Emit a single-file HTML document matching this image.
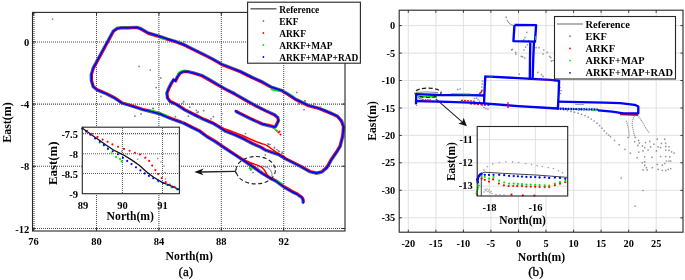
<!DOCTYPE html>
<html><head><meta charset="utf-8"><style>
html,body{margin:0;padding:0;background:#fff;width:685px;height:280px;overflow:hidden}
svg{display:block;filter:blur(0.3px)}
text{font-family:"Liberation Serif",serif}
</style></head><body>
<svg width="685" height="280" viewBox="0 0 685 280">
<rect width="685" height="280" fill="#fff"/>
<line x1="96.5" y1="13" x2="96.5" y2="231.0" stroke="#4a4a4a" stroke-width="1.05" stroke-dasharray="1 1"/>
<line x1="158.9" y1="13" x2="158.9" y2="231.0" stroke="#4a4a4a" stroke-width="1.05" stroke-dasharray="1 1"/>
<line x1="221.3" y1="13" x2="221.3" y2="231.0" stroke="#4a4a4a" stroke-width="1.05" stroke-dasharray="1 1"/>
<line x1="283.7" y1="13" x2="283.7" y2="231.0" stroke="#4a4a4a" stroke-width="1.05" stroke-dasharray="1 1"/>
<line x1="33" y1="41.9" x2="345.0" y2="41.9" stroke="#4a4a4a" stroke-width="1.05" stroke-dasharray="1 1"/>
<line x1="33" y1="104.1" x2="345.0" y2="104.1" stroke="#4a4a4a" stroke-width="1.05" stroke-dasharray="1 1"/>
<line x1="33" y1="166.3" x2="345.0" y2="166.3" stroke="#4a4a4a" stroke-width="1.05" stroke-dasharray="1 1"/>
<line x1="33" y1="228.5" x2="345.0" y2="228.5" stroke="#4a4a4a" stroke-width="1.05" stroke-dasharray="1 1"/>
<line x1="34" y1="13" x2="34" y2="231.0" stroke="#555" stroke-width="1.2" stroke-dasharray="1 1"/>
<polyline points="302.0,203.1 302.0,200.2 301.1,198.3 296.9,195.3 292.0,192.9 283.1,187.8 275.7,182.2 269.5,179.1 262.1,174.6 250.5,166.4 236.5,157.1 222.6,147.9 214.6,142.4 206.7,137.8 198.8,131.9 191.0,128.1 183.3,124.1 170.1,119.5 159.6,114.9 150.7,112.6 142.8,110.7 132.3,107.3 121.5,104.0 113.6,98.6 105.8,94.8 96.6,90.9 92.2,87.2 90.3,80.7 90.1,74.8 92.1,67.9 112.4,30.6 116.6,27.4 120.9,26.7 128.2,26.7 137.0,26.3 141.0,27.6 149.0,32.2 159.1,35.1 167.9,38.1 175.4,40.4 184.2,43.6 194.5,48.7 204.7,53.8 213.5,58.2 222.2,63.3 233.8,67.7 241.0,70.6 251.5,75.9 262.0,80.6 272.4,86.4 282.9,89.9 288.2,93.0 297.3,98.9 309.0,104.5 319.5,107.4 330.0,111.6 338.1,115.4 342.6,120.5 344.7,126.9 343.9,136.0 341.2,146.7 337.9,152.1 332.4,160.1 327.9,168.2 322.5,172.8 316.5,174.3 309.5,172.7 298.9,166.8 285.8,160.2 278.3,155.7 271.4,153.5 265.2,151.3 260.2,148.3 251.3,144.3 242.4,139.4 233.5,135.4 225.0,132.2 219.8,128.7 212.1,124.1 202.9,120.2 193.7,115.6 184.5,111.0 176.0,105.5 169.4,102.4 166.5,98.4 165.7,93.2 167.5,88.3 170.2,82.9 173.3,78.4 174.7,80.3 176.3,76.5 179.3,72.2 183.8,70.3 188.2,70.5 194.5,72.0 202.4,74.5 210.5,79.1 218.4,83.7 226.2,88.3 235.4,92.9 244.6,98.2 256.8,105.0 266.7,110.0 275.0,113.8 278.7,116.9 279.6,120.7 278.0,124.2 276.4,127.2 274.0,128.4 272.2,127.6 262.1,125.2 249.5,119.5 239.5,114.5 235.6,112.4 234.7,111.2" fill="none" stroke="#4a4a4a" stroke-width="1.2" stroke-linejoin="round" opacity="0.85"/>
<polyline points="304.2,203.1 304.2,199.8 302.7,196.7 298.1,193.4 293.1,190.9 284.4,185.9 276.9,180.3 270.6,177.1 263.3,172.7 251.7,164.6 237.7,155.2 223.8,146.0 215.8,140.5 207.9,135.9 200.0,130.0 192.0,126.1 184.1,122.0 170.9,117.4 160.4,112.8 151.3,110.4 143.4,108.5 132.9,105.2 122.5,102.0 114.8,96.7 106.8,92.8 97.7,88.9 94.1,86.0 92.5,80.3 92.3,75.2 94.1,68.9 114.3,31.8 117.5,29.5 121.1,28.9 128.2,28.9 136.8,28.5 140.0,29.6 148.2,34.3 158.5,37.3 167.2,40.2 174.6,42.5 183.3,45.7 193.5,50.7 203.7,55.8 212.5,60.2 221.2,65.3 233.0,69.8 240.0,72.6 250.5,77.9 261.0,82.6 271.5,88.5 282.1,92.0 287.0,94.9 296.2,100.9 308.2,106.6 318.7,109.5 329.1,113.7 336.8,117.2 340.6,121.6 342.5,127.1 341.7,135.6 339.1,145.9 336.0,150.9 330.5,158.9 326.1,166.8 321.5,170.8 316.5,172.1 310.4,170.6 299.9,164.8 286.8,158.2 279.3,153.7 272.2,151.4 266.2,149.3 261.2,146.3 252.3,142.3 243.4,137.4 234.3,133.3 226.0,130.2 221.0,126.8 213.1,122.1 203.9,118.2 194.7,113.6 185.6,109.0 177.1,103.5 170.7,100.6 168.6,97.6 167.9,93.4 169.6,89.2 172.2,84.0 174.3,80.4 176.0,82.1 178.3,77.6 180.7,73.9 184.2,72.5 187.8,72.7 193.9,74.2 201.5,76.6 209.3,81.1 217.2,85.7 225.2,90.3 234.4,94.9 243.5,100.2 255.7,107.0 265.8,112.0 273.9,115.8 276.9,118.2 277.4,120.5 276.0,123.2 274.7,125.8 274.0,126.1 272.8,125.4 262.9,123.1 250.5,117.5 240.5,112.5 236.8,110.5 236.6,110.0" fill="none" stroke="#ff0000" stroke-width="1.25" stroke-linejoin="round"/>
<path d="M262,166 Q268,166.5 270.5,170 Q272.5,173 272,176.5" fill="none" stroke="#8a8a8a" stroke-width="1"/>
<path d="M238.0,157.0 C239.2,157.6 242.7,159.2 245.0,160.3 C247.3,161.4 249.8,162.4 252.0,163.3 C254.2,164.2 256.8,164.9 258.5,165.6 C260.2,166.3 260.9,166.6 262.0,167.5 C263.1,168.4 264.1,169.7 265.0,171.0 C265.9,172.3 266.6,174.3 267.5,175.5 C268.4,176.7 270.0,177.9 270.5,178.4" fill="none" stroke="#ff0000" stroke-width="1.5"/>
<path d="M222.0,127.4 C222.5,127.7 223.0,128.2 225.0,129.0 C227.0,129.8 230.9,131.0 233.9,132.1 C236.9,133.2 239.9,134.4 242.9,135.7 C245.9,137.0 248.8,138.4 251.8,139.7 C254.8,141.0 258.5,142.5 260.7,143.3 C262.9,144.1 263.7,144.1 265.0,144.6 C266.3,145.1 267.2,145.7 268.3,146.4 C269.4,147.1 270.5,148.1 271.8,149.0 C273.1,149.9 274.8,151.2 276.2,152.1 C277.6,153.0 279.0,153.9 280.5,154.7 C282.0,155.5 284.2,156.6 285.0,157.0" fill="none" stroke="#ff0000" stroke-width="1.5"/>
<path d="M150.0,110.5 C151.7,111.0 157.0,112.2 160.0,113.2 C163.0,114.2 166.7,116.0 168.0,116.5" fill="none" stroke="#00e600" stroke-width="2"/>
<path d="M275.0,180.2 C275.7,180.5 277.8,181.5 279.0,182.2 C280.2,182.9 281.9,184.0 282.5,184.4" fill="none" stroke="#00e600" stroke-width="2"/>
<path d="M271.0,89.0 C271.8,89.2 274.4,89.9 276.0,90.2 C277.6,90.5 279.8,90.9 280.5,91.0" fill="none" stroke="#00e600" stroke-width="2"/>
<path d="M286.0,93.2 C286.7,93.5 288.8,94.5 290.0,95.0 C291.2,95.5 292.5,96.2 293.0,96.5" fill="none" stroke="#00e600" stroke-width="2"/>
<path d="M177.5,74.2 C178.1,73.7 179.6,71.9 181.0,71.3 C182.4,70.7 185.2,70.7 186.0,70.6" fill="none" stroke="#00e600" stroke-width="2"/>
<path d="M166.6,92.0 L167.3,95.0" fill="none" stroke="#00e600" stroke-width="2"/>
<path d="M249.0,167.6 L252.0,169.8" fill="none" stroke="#00e600" stroke-width="2"/>
<path d="M160.0,37.6 C160.6,37.8 162.4,38.4 163.5,38.8 C164.6,39.2 166.0,39.6 166.5,39.8" fill="none" stroke="#00e600" stroke-width="2"/>
<polyline points="303.1,203.1 303.1,200.0 301.9,197.5 297.5,194.4 292.5,191.9 283.8,186.9 276.2,181.2 270.0,178.1 262.7,173.7 251.1,165.5 237.1,156.2 223.2,147.0 215.2,141.5 207.3,136.9 199.4,131.0 191.5,127.1 183.7,123.1 170.5,118.5 160.0,113.9 151.0,111.5 143.1,109.6 132.6,106.3 122.0,103.0 114.2,97.7 106.3,93.8 97.1,89.9 93.1,86.6 91.4,80.5 91.2,75.0 93.1,68.4 113.3,31.2 117.0,28.4 121.0,27.8 128.2,27.8 136.9,27.4 140.5,28.6 148.6,33.2 158.8,36.2 167.6,39.1 175.0,41.4 183.8,44.6 194.0,49.7 204.2,54.8 213.0,59.2 221.7,64.3 233.4,68.7 240.5,71.6 251.0,76.9 261.5,81.6 272.0,87.4 282.5,90.9 287.6,93.9 296.8,99.9 308.6,105.5 319.1,108.4 329.6,112.6 337.5,116.3 341.6,121.0 343.6,127.0 342.8,135.8 340.2,146.3 337.0,151.5 331.5,159.5 327.0,167.5 322.0,171.8 316.5,173.2 309.9,171.7 299.4,165.8 286.3,159.2 278.8,154.7 271.8,152.5 265.7,150.3 260.7,147.3 251.8,143.3 242.9,138.4 233.9,134.4 225.5,131.2 220.4,127.8 212.6,123.1 203.4,119.2 194.2,114.6 185.0,110.0 176.5,104.5 170.0,101.5 167.5,98.0 166.8,93.3 168.5,88.7 171.2,83.4 173.8,79.4 175.3,81.2 177.3,77.0 180.0,73.0 184.0,71.4 188.0,71.6 194.2,73.1 202.0,75.5 209.9,80.1 217.8,84.7 225.7,89.3 234.9,93.9 244.1,99.2 256.2,106.0 266.2,111.0 274.5,114.8 277.8,117.5 278.5,120.6 277.0,123.8 275.6,126.5 274.0,127.3 272.5,126.5 262.5,124.2 250.0,118.5 240.0,113.5 236.2,111.5 235.6,110.6" fill="none" stroke="#0000ff" stroke-width="1.75" stroke-linejoin="round" stroke-linecap="round"/>
<circle cx="276.5" cy="130.5" r="1.1" fill="#ff0000"/><circle cx="278.5" cy="132.5" r="1.1" fill="#ff0000"/><circle cx="280.5" cy="134.5" r="1.1" fill="#ff0000"/><circle cx="279.5" cy="131.5" r="1.1" fill="#ff0000"/>
<circle cx="275.0" cy="129.0" r="1.0" fill="#00e600"/><circle cx="277.0" cy="131.0" r="1.0" fill="#00e600"/>
<circle cx="52.5" cy="19.1" r="0.85" fill="#7a7a7a"/><circle cx="139.1" cy="66.4" r="0.85" fill="#7a7a7a"/><circle cx="150.3" cy="70.0" r="0.85" fill="#7a7a7a"/><circle cx="160.8" cy="77.9" r="0.85" fill="#7a7a7a"/><circle cx="101.0" cy="96.4" r="0.85" fill="#7a7a7a"/><circle cx="156.2" cy="87.6" r="0.85" fill="#7a7a7a"/><circle cx="141.1" cy="113.9" r="0.85" fill="#7a7a7a"/><circle cx="152.9" cy="108.3" r="0.85" fill="#7a7a7a"/><circle cx="183.7" cy="101.7" r="0.85" fill="#7a7a7a"/><circle cx="192.1" cy="103.8" r="0.85" fill="#7a7a7a"/><circle cx="189.8" cy="107.0" r="0.85" fill="#7a7a7a"/><circle cx="196.3" cy="110.3" r="0.85" fill="#7a7a7a"/><circle cx="198.2" cy="111.9" r="0.85" fill="#7a7a7a"/><circle cx="203.8" cy="110.7" r="0.85" fill="#7a7a7a"/><circle cx="175.4" cy="116.7" r="0.85" fill="#7a7a7a"/><circle cx="211.0" cy="118.8" r="0.85" fill="#7a7a7a"/><circle cx="213.4" cy="116.7" r="0.85" fill="#7a7a7a"/><circle cx="222.0" cy="113.5" r="0.85" fill="#7a7a7a"/><circle cx="245.5" cy="133.5" r="0.85" fill="#7a7a7a"/><circle cx="153.2" cy="108.6" r="0.85" fill="#7a7a7a"/><circle cx="183.0" cy="121.8" r="0.85" fill="#7a7a7a"/><circle cx="199.4" cy="118.5" r="0.85" fill="#7a7a7a"/><circle cx="296.8" cy="92.4" r="0.85" fill="#7a7a7a"/><circle cx="304.7" cy="100.8" r="0.85" fill="#7a7a7a"/><circle cx="304.0" cy="109.7" r="0.85" fill="#7a7a7a"/><circle cx="320.4" cy="107.1" r="0.85" fill="#7a7a7a"/><circle cx="313.9" cy="103.8" r="0.85" fill="#7a7a7a"/><circle cx="298.8" cy="103.8" r="0.85" fill="#7a7a7a"/><circle cx="268.5" cy="144.3" r="0.85" fill="#7a7a7a"/><circle cx="274.5" cy="147.6" r="0.85" fill="#7a7a7a"/><circle cx="278.4" cy="150.9" r="0.85" fill="#7a7a7a"/><circle cx="265.3" cy="154.8" r="0.85" fill="#7a7a7a"/><circle cx="282.3" cy="152.2" r="0.85" fill="#7a7a7a"/><circle cx="305.3" cy="100.9" r="0.85" fill="#7a7a7a"/><circle cx="179.4" cy="41.0" r="0.85" fill="#7a7a7a"/><circle cx="184.0" cy="41.5" r="0.85" fill="#7a7a7a"/><circle cx="134.9" cy="116.2" r="0.85" fill="#7a7a7a"/><circle cx="188.4" cy="116.2" r="0.85" fill="#7a7a7a"/><circle cx="197.0" cy="112.7" r="0.85" fill="#7a7a7a"/><circle cx="182.0" cy="103.3" r="0.85" fill="#7a7a7a"/><circle cx="268.0" cy="143.8" r="0.85" fill="#7a7a7a"/><circle cx="270.0" cy="144.5" r="0.85" fill="#7a7a7a"/><circle cx="274.5" cy="147.8" r="0.85" fill="#7a7a7a"/><circle cx="277.0" cy="149.5" r="0.85" fill="#7a7a7a"/><circle cx="279.5" cy="151.5" r="0.85" fill="#7a7a7a"/><circle cx="282.0" cy="153.4" r="0.85" fill="#7a7a7a"/><circle cx="250.5" cy="170.0" r="0.85" fill="#7a7a7a"/><circle cx="253.0" cy="172.5" r="0.85" fill="#7a7a7a"/><circle cx="258.0" cy="168.0" r="0.85" fill="#7a7a7a"/><circle cx="260.5" cy="170.5" r="0.85" fill="#7a7a7a"/>
<ellipse cx="255.7" cy="170.2" rx="19.7" ry="13.7" fill="none" stroke="#222" stroke-width="1.1" stroke-dasharray="4 2.6"/>
<line x1="235.7" y1="171.3" x2="200" y2="172" stroke="#222" stroke-width="1.3"/>
<line x1="235.7" y1="169.3" x2="235.7" y2="173.3" stroke="#222" stroke-width="1"/>
<path d="M194.3,172 L203.5,168.6 L201,172 L203.5,175.2 Z" fill="#111"/>
<rect x="82.3" y="127.2" width="97.10000000000001" height="66.49999999999999" fill="#fff"/>
<line x1="122.4" y1="128" x2="122.4" y2="193.7" stroke="#5a5a5a" stroke-width="1.05" stroke-dasharray="1 1"/>
<line x1="162.5" y1="128" x2="162.5" y2="193.7" stroke="#5a5a5a" stroke-width="1.05" stroke-dasharray="1 1"/>
<line x1="83" y1="133.6" x2="179.4" y2="133.6" stroke="#5a5a5a" stroke-width="1.05" stroke-dasharray="1 1"/>
<line x1="83" y1="153.7" x2="179.4" y2="153.7" stroke="#5a5a5a" stroke-width="1.05" stroke-dasharray="1 1"/>
<line x1="83" y1="173.5" x2="179.4" y2="173.5" stroke="#5a5a5a" stroke-width="1.05" stroke-dasharray="1 1"/>
<polyline points="82.2,128.0 91.1,134.5 107.1,145.7 113.5,150.0 123.2,154.8 131.2,159.6 139.2,165.3 147.3,172.5 153.7,177.3 161.7,182.1 169.7,185.3 179.4,189.6" fill="none" stroke="#111" stroke-width="1.3"/>
<circle cx="121.6" cy="151.3" r="0.8" fill="#888"/><circle cx="127.2" cy="154.2" r="0.8" fill="#888"/><circle cx="137.6" cy="159.3" r="0.8" fill="#888"/><circle cx="145.7" cy="157.3" r="0.8" fill="#888"/><circle cx="157.7" cy="158.5" r="0.8" fill="#888"/><circle cx="161.0" cy="162.0" r="0.8" fill="#888"/><circle cx="164.0" cy="166.0" r="0.8" fill="#888"/><circle cx="165.0" cy="172.5" r="0.8" fill="#888"/><circle cx="165.5" cy="179.0" r="0.8" fill="#888"/>
<circle cx="82.7" cy="127.7" r="1.05" fill="#ff0000"/><circle cx="87.0" cy="130.9" r="1.05" fill="#ff0000"/><circle cx="91.9" cy="133.7" r="1.05" fill="#ff0000"/><circle cx="97.5" cy="136.9" r="1.05" fill="#ff0000"/><circle cx="102.6" cy="139.6" r="1.05" fill="#ff0000"/><circle cx="107.6" cy="141.7" r="1.05" fill="#ff0000"/><circle cx="112.4" cy="144.4" r="1.05" fill="#ff0000"/><circle cx="118.0" cy="146.7" r="1.05" fill="#ff0000"/><circle cx="124.0" cy="148.9" r="1.05" fill="#ff0000"/><circle cx="129.6" cy="150.8" r="1.05" fill="#ff0000"/><circle cx="134.9" cy="152.7" r="1.05" fill="#ff0000"/><circle cx="140.0" cy="154.5" r="1.05" fill="#ff0000"/><circle cx="145.2" cy="157.7" r="1.05" fill="#ff0000"/><circle cx="149.2" cy="160.9" r="1.05" fill="#ff0000"/><circle cx="152.2" cy="165.6" r="1.05" fill="#ff0000"/><circle cx="155.3" cy="170.1" r="1.05" fill="#ff0000"/><circle cx="158.2" cy="174.1" r="1.05" fill="#ff0000"/><circle cx="161.7" cy="178.1" r="1.05" fill="#ff0000"/><circle cx="165.7" cy="182.1" r="1.05" fill="#ff0000"/><circle cx="169.7" cy="184.5" r="1.05" fill="#ff0000"/><circle cx="174.6" cy="186.9" r="1.05" fill="#ff0000"/>
<circle cx="99.6" cy="142.5" r="1.05" fill="#00e600"/><circle cx="103.9" cy="145.4" r="1.05" fill="#00e600"/><circle cx="107.9" cy="149.2" r="1.05" fill="#00e600"/><circle cx="111.6" cy="153.2" r="1.05" fill="#00e600"/><circle cx="116.0" cy="156.9" r="1.05" fill="#00e600"/><circle cx="120.0" cy="158.9" r="1.05" fill="#00e600"/><circle cx="121.6" cy="161.4" r="1.05" fill="#00e600"/><circle cx="158.5" cy="181.5" r="1.05" fill="#00e600"/><circle cx="166.5" cy="184.5" r="1.05" fill="#00e600"/><circle cx="171.5" cy="187.5" r="1.05" fill="#00e600"/><circle cx="177.0" cy="189.5" r="1.05" fill="#00e600"/>
<circle cx="82.2" cy="128.8" r="1.05" fill="#0000ff"/><circle cx="86.2" cy="131.6" r="1.05" fill="#0000ff"/><circle cx="90.3" cy="134.8" r="1.05" fill="#0000ff"/><circle cx="95.1" cy="138.5" r="1.05" fill="#0000ff"/><circle cx="99.9" cy="141.7" r="1.05" fill="#0000ff"/><circle cx="103.9" cy="144.9" r="1.05" fill="#0000ff"/><circle cx="107.9" cy="148.6" r="1.05" fill="#0000ff"/><circle cx="112.7" cy="151.3" r="1.05" fill="#0000ff"/><circle cx="118.0" cy="154.3" r="1.05" fill="#0000ff"/><circle cx="122.9" cy="157.7" r="1.05" fill="#0000ff"/><circle cx="127.2" cy="160.9" r="1.05" fill="#0000ff"/><circle cx="131.5" cy="164.1" r="1.05" fill="#0000ff"/><circle cx="136.0" cy="167.3" r="1.05" fill="#0000ff"/><circle cx="140.4" cy="170.4" r="1.05" fill="#0000ff"/><circle cx="144.7" cy="173.4" r="1.05" fill="#0000ff"/><circle cx="148.9" cy="175.9" r="1.05" fill="#0000ff"/><circle cx="153.2" cy="178.3" r="1.05" fill="#0000ff"/><circle cx="158.2" cy="180.8" r="1.05" fill="#0000ff"/><circle cx="163.0" cy="182.9" r="1.05" fill="#0000ff"/><circle cx="167.8" cy="185.0" r="1.05" fill="#0000ff"/><circle cx="172.6" cy="186.9" r="1.05" fill="#0000ff"/><circle cx="177.8" cy="189.3" r="1.05" fill="#0000ff"/>
<rect x="82.3" y="127.2" width="97.10000000000001" height="66.49999999999999" fill="none" stroke="#262626" stroke-width="1.1"/>
<text x="78" y="137.79999999999998" font-size="10.5" text-anchor="end" font-weight="bold" fill="#000">-7.5</text>
<text x="78" y="157.89999999999998" font-size="10.5" text-anchor="end" font-weight="bold" fill="#000">-8</text>
<text x="78" y="177.7" font-size="10.5" text-anchor="end" font-weight="bold" fill="#000">-8.5</text>
<text x="78" y="197.89999999999998" font-size="10.5" text-anchor="end" font-weight="bold" fill="#000">-9</text>
<text x="83" y="208.6" font-size="10.5" text-anchor="middle" font-weight="bold" fill="#000">89</text>
<text x="122.6" y="208.6" font-size="10.5" text-anchor="middle" font-weight="bold" fill="#000">90</text>
<text x="162.5" y="208.6" font-size="10.5" text-anchor="middle" font-weight="bold" fill="#000">91</text>
<text x="130.3" y="220" font-size="11.7" text-anchor="middle" font-weight="bold" fill="#000">North(m)</text>
<text x="57" y="163.2" font-size="12" text-anchor="middle" font-weight="bold" textLength="43.5" lengthAdjust="spacingAndGlyphs" transform="rotate(-90 57 163.2)">East(m)</text>
<rect x="32.5" y="12.4" width="312.5" height="218.6" fill="none" stroke="#262626" stroke-width="1.1"/>
<line x1="33.6" y1="231.0" x2="33.6" y2="228.0" stroke="#262626" stroke-width="0.9"/>
<line x1="33.6" y1="12.4" x2="33.6" y2="15.4" stroke="#262626" stroke-width="0.9"/>
<line x1="96.5" y1="231.0" x2="96.5" y2="228.0" stroke="#262626" stroke-width="0.9"/>
<line x1="96.5" y1="12.4" x2="96.5" y2="15.4" stroke="#262626" stroke-width="0.9"/>
<line x1="158.9" y1="231.0" x2="158.9" y2="228.0" stroke="#262626" stroke-width="0.9"/>
<line x1="158.9" y1="12.4" x2="158.9" y2="15.4" stroke="#262626" stroke-width="0.9"/>
<line x1="221.3" y1="231.0" x2="221.3" y2="228.0" stroke="#262626" stroke-width="0.9"/>
<line x1="221.3" y1="12.4" x2="221.3" y2="15.4" stroke="#262626" stroke-width="0.9"/>
<line x1="283.7" y1="231.0" x2="283.7" y2="228.0" stroke="#262626" stroke-width="0.9"/>
<line x1="283.7" y1="12.4" x2="283.7" y2="15.4" stroke="#262626" stroke-width="0.9"/>
<line x1="32.5" y1="41.9" x2="35.5" y2="41.9" stroke="#262626" stroke-width="0.9"/>
<line x1="345.0" y1="41.9" x2="342.0" y2="41.9" stroke="#262626" stroke-width="0.9"/>
<line x1="32.5" y1="104.1" x2="35.5" y2="104.1" stroke="#262626" stroke-width="0.9"/>
<line x1="345.0" y1="104.1" x2="342.0" y2="104.1" stroke="#262626" stroke-width="0.9"/>
<line x1="32.5" y1="166.3" x2="35.5" y2="166.3" stroke="#262626" stroke-width="0.9"/>
<line x1="345.0" y1="166.3" x2="342.0" y2="166.3" stroke="#262626" stroke-width="0.9"/>
<line x1="32.5" y1="228.5" x2="35.5" y2="228.5" stroke="#262626" stroke-width="0.9"/>
<line x1="345.0" y1="228.5" x2="342.0" y2="228.5" stroke="#262626" stroke-width="0.9"/>
<text x="33.6" y="245.2" font-size="10.5" text-anchor="middle" font-weight="bold" fill="#000">76</text>
<text x="96.5" y="245.2" font-size="10.5" text-anchor="middle" font-weight="bold" fill="#000">80</text>
<text x="158.9" y="245.2" font-size="10.5" text-anchor="middle" font-weight="bold" fill="#000">84</text>
<text x="221.3" y="245.2" font-size="10.5" text-anchor="middle" font-weight="bold" fill="#000">88</text>
<text x="283.7" y="245.2" font-size="10.5" text-anchor="middle" font-weight="bold" fill="#000">92</text>
<text x="29.2" y="45.9" font-size="10.5" text-anchor="end" font-weight="bold" fill="#000">0</text>
<text x="29.2" y="108.1" font-size="10.5" text-anchor="end" font-weight="bold" fill="#000">-4</text>
<text x="29.2" y="170.3" font-size="10.5" text-anchor="end" font-weight="bold" fill="#000">-8</text>
<text x="29.2" y="232.5" font-size="10.5" text-anchor="end" font-weight="bold" fill="#000">-12</text>
<text x="189.3" y="259.5" font-size="11.7" text-anchor="middle" font-weight="bold" fill="#000">North(m)</text>
<text x="11.2" y="122.5" font-size="12" text-anchor="middle" font-weight="bold" fill="#000" transform="rotate(-90 11.2 122.5)">East(m)</text>
<text x="185.9" y="275.8" font-size="13.2" text-anchor="middle" font-weight="normal" fill="#000" stroke="#000" stroke-width="0.3">(a)</text>
<rect x="247.6" y="2.2" width="112.8" height="61" fill="#fff" stroke="#262626" stroke-width="1.1"/>
<line x1="250.4" y1="8.8" x2="276.5" y2="8.8" stroke="#5a5a5a" stroke-width="1.4"/>
<text x="279.3" y="12.6" font-size="9.4" text-anchor="start" font-weight="bold" fill="#000">Reference</text>
<circle cx="263.4" cy="21.0" r="0.9" fill="#7a7a7a"/>
<text x="279.3" y="24.6" font-size="9.4" text-anchor="start" font-weight="bold" fill="#000">EKF</text>
<circle cx="263.4" cy="33.0" r="0.9" fill="#ff0000"/>
<text x="279.3" y="36.6" font-size="9.4" text-anchor="start" font-weight="bold" fill="#000">ARKF</text>
<circle cx="263.4" cy="45.0" r="0.9" fill="#00e600"/>
<text x="279.3" y="48.6" font-size="9.4" text-anchor="start" font-weight="bold" fill="#000">ARKF+MAP</text>
<circle cx="263.4" cy="57.0" r="0.9" fill="#0000ff"/>
<text x="279.3" y="60.6" font-size="9.4" text-anchor="start" font-weight="bold" fill="#000">ARKF+MAP+RAD</text>
<rect x="399.2" y="10.2" width="283.8" height="222.0" fill="#fff"/>
<line x1="408.3" y1="10.2" x2="408.3" y2="232.2" stroke="#dedede" stroke-width="0.9"/>
<line x1="435.9" y1="10.2" x2="435.9" y2="232.2" stroke="#dedede" stroke-width="0.9"/>
<line x1="463.4" y1="10.2" x2="463.4" y2="232.2" stroke="#dedede" stroke-width="0.9"/>
<line x1="490.9" y1="10.2" x2="490.9" y2="232.2" stroke="#dedede" stroke-width="0.9"/>
<line x1="518.5" y1="10.2" x2="518.5" y2="232.2" stroke="#dedede" stroke-width="0.9"/>
<line x1="546.0" y1="10.2" x2="546.0" y2="232.2" stroke="#dedede" stroke-width="0.9"/>
<line x1="573.6" y1="10.2" x2="573.6" y2="232.2" stroke="#dedede" stroke-width="0.9"/>
<line x1="601.1" y1="10.2" x2="601.1" y2="232.2" stroke="#dedede" stroke-width="0.9"/>
<line x1="628.7" y1="10.2" x2="628.7" y2="232.2" stroke="#dedede" stroke-width="0.9"/>
<line x1="656.2" y1="10.2" x2="656.2" y2="232.2" stroke="#dedede" stroke-width="0.9"/>
<line x1="399.2" y1="25.6" x2="683.0" y2="25.6" stroke="#dedede" stroke-width="0.9"/>
<line x1="399.2" y1="53.1" x2="683.0" y2="53.1" stroke="#dedede" stroke-width="0.9"/>
<line x1="399.2" y1="80.5" x2="683.0" y2="80.5" stroke="#dedede" stroke-width="0.9"/>
<line x1="399.2" y1="108.0" x2="683.0" y2="108.0" stroke="#dedede" stroke-width="0.9"/>
<line x1="399.2" y1="135.4" x2="683.0" y2="135.4" stroke="#dedede" stroke-width="0.9"/>
<line x1="399.2" y1="162.8" x2="683.0" y2="162.8" stroke="#dedede" stroke-width="0.9"/>
<line x1="399.2" y1="190.3" x2="683.0" y2="190.3" stroke="#dedede" stroke-width="0.9"/>
<line x1="399.2" y1="217.8" x2="683.0" y2="217.8" stroke="#dedede" stroke-width="0.9"/>
<circle cx="506.2" cy="17.2" r="0.85" fill="#959595"/><circle cx="526.8" cy="32.3" r="0.85" fill="#959595"/><circle cx="525.0" cy="37.4" r="0.85" fill="#959595"/><circle cx="523.9" cy="39.5" r="0.85" fill="#959595"/><circle cx="523.3" cy="40.7" r="0.85" fill="#959595"/><circle cx="528.5" cy="40.7" r="0.85" fill="#959595"/><circle cx="527.4" cy="44.8" r="0.85" fill="#959595"/><circle cx="525.6" cy="47.1" r="0.85" fill="#959595"/><circle cx="523.9" cy="50.0" r="0.85" fill="#959595"/><circle cx="511.6" cy="49.8" r="0.85" fill="#959595"/><circle cx="515.7" cy="52.4" r="0.85" fill="#959595"/><circle cx="515.9" cy="54.1" r="0.85" fill="#959595"/><circle cx="521.3" cy="56.4" r="0.85" fill="#959595"/><circle cx="524.8" cy="58.0" r="0.85" fill="#959595"/><circle cx="536.1" cy="47.7" r="0.85" fill="#959595"/><circle cx="539.0" cy="47.7" r="0.85" fill="#959595"/><circle cx="543.7" cy="50.0" r="0.85" fill="#959595"/><circle cx="543.1" cy="54.1" r="0.85" fill="#959595"/><circle cx="547.2" cy="52.4" r="0.85" fill="#959595"/><circle cx="549.6" cy="56.4" r="0.85" fill="#959595"/><circle cx="550.7" cy="57.6" r="0.85" fill="#959595"/><circle cx="551.3" cy="61.1" r="0.85" fill="#959595"/><circle cx="553.1" cy="60.5" r="0.85" fill="#959595"/><circle cx="519.2" cy="74.1" r="0.85" fill="#959595"/><circle cx="537.9" cy="72.4" r="0.85" fill="#959595"/><circle cx="541.4" cy="74.7" r="0.85" fill="#959595"/><circle cx="543.1" cy="76.4" r="0.85" fill="#959595"/><circle cx="512.4" cy="49.4" r="0.85" fill="#959595"/><circle cx="522.6" cy="56.7" r="0.85" fill="#959595"/><circle cx="457.8" cy="89.5" r="0.85" fill="#959595"/><circle cx="460.2" cy="89.1" r="0.85" fill="#959595"/><circle cx="564.0" cy="109.8" r="0.85" fill="#959595"/><circle cx="567.5" cy="110.6" r="0.85" fill="#959595"/><circle cx="571.0" cy="111.4" r="0.85" fill="#959595"/><circle cx="574.5" cy="112.2" r="0.85" fill="#959595"/><circle cx="578.0" cy="113.2" r="0.85" fill="#959595"/><circle cx="581.5" cy="114.3" r="0.85" fill="#959595"/><circle cx="585.0" cy="115.6" r="0.85" fill="#959595"/><circle cx="588.3" cy="117.2" r="0.85" fill="#959595"/><circle cx="591.3" cy="119.0" r="0.85" fill="#959595"/><circle cx="594.2" cy="121.0" r="0.85" fill="#959595"/><circle cx="597.0" cy="123.2" r="0.85" fill="#959595"/><circle cx="599.6" cy="125.6" r="0.85" fill="#959595"/><circle cx="602.0" cy="128.2" r="0.85" fill="#959595"/><circle cx="604.2" cy="130.8" r="0.85" fill="#959595"/><circle cx="606.5" cy="133.3" r="0.85" fill="#959595"/><circle cx="608.6" cy="135.0" r="0.85" fill="#959595"/><circle cx="610.5" cy="136.6" r="0.85" fill="#959595"/><circle cx="614.5" cy="140.4" r="0.85" fill="#959595"/><circle cx="619.2" cy="144.7" r="0.85" fill="#959595"/><circle cx="625.1" cy="149.3" r="0.85" fill="#959595"/><circle cx="630.4" cy="153.1" r="0.85" fill="#959595"/><circle cx="627.9" cy="137.5" r="0.85" fill="#959595"/><circle cx="634.6" cy="141.7" r="0.85" fill="#959595"/><circle cx="635.5" cy="137.5" r="0.85" fill="#959595"/><circle cx="638.5" cy="140.4" r="0.85" fill="#959595"/><circle cx="639.3" cy="143.1" r="0.85" fill="#959595"/><circle cx="638.0" cy="145.4" r="0.85" fill="#959595"/><circle cx="642.5" cy="145.9" r="0.85" fill="#959595"/><circle cx="645.5" cy="142.6" r="0.85" fill="#959595"/><circle cx="649.7" cy="141.4" r="0.85" fill="#959595"/><circle cx="653.9" cy="144.2" r="0.85" fill="#959595"/><circle cx="650.6" cy="146.8" r="0.85" fill="#959595"/><circle cx="644.7" cy="147.6" r="0.85" fill="#959595"/><circle cx="648.1" cy="150.1" r="0.85" fill="#959595"/><circle cx="643.0" cy="150.9" r="0.85" fill="#959595"/><circle cx="638.8" cy="152.1" r="0.85" fill="#959595"/><circle cx="637.1" cy="157.7" r="0.85" fill="#959595"/><circle cx="644.7" cy="156.8" r="0.85" fill="#959595"/><circle cx="651.9" cy="157.2" r="0.85" fill="#959595"/><circle cx="656.5" cy="150.9" r="0.85" fill="#959595"/><circle cx="657.3" cy="139.2" r="0.85" fill="#959595"/><circle cx="658.1" cy="146.8" r="0.85" fill="#959595"/><circle cx="661.5" cy="143.4" r="0.85" fill="#959595"/><circle cx="664.8" cy="139.2" r="0.85" fill="#959595"/><circle cx="665.7" cy="143.4" r="0.85" fill="#959595"/><circle cx="665.7" cy="146.4" r="0.85" fill="#959595"/><circle cx="669.0" cy="146.8" r="0.85" fill="#959595"/><circle cx="660.6" cy="147.6" r="0.85" fill="#959595"/><circle cx="665.7" cy="150.1" r="0.85" fill="#959595"/><circle cx="669.0" cy="150.4" r="0.85" fill="#959595"/><circle cx="671.6" cy="151.8" r="0.85" fill="#959595"/><circle cx="674.1" cy="153.1" r="0.85" fill="#959595"/><circle cx="660.6" cy="156.5" r="0.85" fill="#959595"/><circle cx="665.7" cy="156.5" r="0.85" fill="#959595"/><circle cx="669.9" cy="156.8" r="0.85" fill="#959595"/><circle cx="642.2" cy="162.7" r="0.85" fill="#959595"/><circle cx="644.7" cy="161.9" r="0.85" fill="#959595"/><circle cx="644.7" cy="165.2" r="0.85" fill="#959595"/><circle cx="646.4" cy="167.7" r="0.85" fill="#959595"/><circle cx="643.0" cy="169.9" r="0.85" fill="#959595"/><circle cx="647.2" cy="169.9" r="0.85" fill="#959595"/><circle cx="652.3" cy="167.7" r="0.85" fill="#959595"/><circle cx="657.3" cy="164.4" r="0.85" fill="#959595"/><circle cx="658.1" cy="169.4" r="0.85" fill="#959595"/><circle cx="662.3" cy="165.2" r="0.85" fill="#959595"/><circle cx="664.8" cy="163.5" r="0.85" fill="#959595"/><circle cx="666.5" cy="161.0" r="0.85" fill="#959595"/><circle cx="669.0" cy="161.0" r="0.85" fill="#959595"/><circle cx="670.7" cy="161.0" r="0.85" fill="#959595"/><circle cx="662.3" cy="170.3" r="0.85" fill="#959595"/><circle cx="665.7" cy="170.3" r="0.85" fill="#959595"/><circle cx="668.2" cy="169.4" r="0.85" fill="#959595"/><circle cx="670.7" cy="168.6" r="0.85" fill="#959595"/><circle cx="621.2" cy="178.1" r="0.85" fill="#959595"/><circle cx="643.0" cy="190.5" r="0.85" fill="#959595"/><circle cx="635.1" cy="206.1" r="0.85" fill="#959595"/><circle cx="560.0" cy="87.5" r="0.85" fill="#959595"/><circle cx="561.0" cy="90.5" r="0.85" fill="#959595"/><circle cx="560.5" cy="93.5" r="0.85" fill="#959595"/><circle cx="474.5" cy="98.6" r="0.85" fill="#959595"/><circle cx="476.5" cy="98.2" r="0.85" fill="#959595"/><circle cx="478.0" cy="99.6" r="0.85" fill="#959595"/><circle cx="479.5" cy="101.2" r="0.85" fill="#959595"/><circle cx="481.0" cy="103.0" r="0.85" fill="#959595"/><circle cx="482.5" cy="105.5" r="0.85" fill="#959595"/><circle cx="484.0" cy="107.5" r="0.85" fill="#959595"/><circle cx="486.0" cy="108.6" r="0.85" fill="#959595"/><circle cx="488.0" cy="109.0" r="0.85" fill="#959595"/><circle cx="475.5" cy="103.5" r="0.85" fill="#959595"/><circle cx="477.5" cy="104.0" r="0.85" fill="#959595"/><circle cx="482.6" cy="81.0" r="0.85" fill="#959595"/><circle cx="482.3" cy="84.0" r="0.85" fill="#959595"/><circle cx="481.8" cy="87.0" r="0.85" fill="#959595"/>
<polyline points="506.8,19.6 507.9,21.6 509.6,23.7 511.5,24.9 513.2,25.2" fill="none" stroke="#8a8a8a" stroke-width="1"/>
<path d="M416,92.4 Q427,91.3 438,92.6" fill="none" stroke="#8a8a8a" stroke-width="1"/>
<path d="M418,97.5 Q420,99.5 423,99.2" fill="none" stroke="#555" stroke-width="0.9"/>
<path d="M575,104.3 Q580,104.8 584,104.6" fill="none" stroke="#8a8a8a" stroke-width="0.9"/>
<polyline points="636.4,114.1 633.6,117.5 632.4,121 632.2,124.5 632.8,128 633.5,131.5 634.2,135 635.3,138" fill="none" stroke="#9a9a9a" stroke-width="1.1" stroke-dasharray="1.3 0.7"/>
<polyline points="637.5,115 640,118.5 642.5,122 644.5,125.5 646,128.5 648,131 649.5,133" fill="none" stroke="#9a9a9a" stroke-width="1.1" stroke-dasharray="1.3 0.7"/>
<polyline points="626.2,120.8 627.3,124 628.2,127.5 628.8,131 629.1,134.5 629.0,137.5" fill="none" stroke="#9a9a9a" stroke-width="1.1" stroke-dasharray="1.3 0.7"/>
<path d="M620,114.2 L638,114.8" stroke="#ff0000" stroke-width="2.2"/>
<path d="M470,103.8 L490,105.3" stroke="#ff0000" stroke-width="1.6" stroke-dasharray="2 1.5"/>
<polyline points="416.0,104.3 416.3,94.2 438.5,95.0 470.0,95.2 485.0,95.5" fill="none" stroke="#0000ff" stroke-width="2.35" stroke-linejoin="round"/>
<polyline points="416.0,101.0 448.0,101.8 470.0,102.6 483.7,103.4 518.2,106.1 557.5,108.5" fill="none" stroke="#0000ff" stroke-width="2.35" stroke-linejoin="round"/>
<polyline points="484.0,103.4 484.6,90.0 485.3,76.4 518.2,78.1 550.3,79.8 559.1,80.9 558.6,95.0 557.9,108.6" fill="none" stroke="#0000ff" stroke-width="2.35" stroke-linejoin="round"/>
<polyline points="557.7,101.7 580.0,102.2 604.2,102.6 620.3,103.2 634.7,104.8 638.3,106.5 638.3,113.3 623.5,113.3 612.3,111.7 601.0,110.6 598.0,110.4" fill="none" stroke="#0000ff" stroke-width="2.35" stroke-linejoin="round"/>
<polyline points="530.3,42.5 530.0,60.0 529.8,79.6" fill="none" stroke="#0000ff" stroke-width="2.35" stroke-linejoin="round"/>
<polyline points="534.0,41.5 533.2,60.0 532.6,80.0" fill="none" stroke="#0000ff" stroke-width="2.35" stroke-linejoin="round"/>
<polyline points="514.5,25.0 536.1,25.2 535.0,41.7 513.4,41.1 514.5,25.0" fill="none" stroke="#0000ff" stroke-width="2.35" stroke-linejoin="round"/>
<circle cx="558.0" cy="108.7" r="1.2" fill="#0000ff"/><circle cx="560.6" cy="108.8" r="1.2" fill="#0000ff"/><circle cx="563.2" cy="108.8" r="1.2" fill="#0000ff"/><circle cx="565.8" cy="108.9" r="1.2" fill="#0000ff"/><circle cx="568.4" cy="108.9" r="1.2" fill="#0000ff"/><circle cx="571.0" cy="109.0" r="1.2" fill="#0000ff"/><circle cx="573.6" cy="109.1" r="1.2" fill="#0000ff"/><circle cx="576.2" cy="109.1" r="1.2" fill="#0000ff"/><circle cx="578.8" cy="109.2" r="1.2" fill="#0000ff"/><circle cx="581.4" cy="109.2" r="1.2" fill="#0000ff"/><circle cx="584.0" cy="109.3" r="1.2" fill="#0000ff"/><circle cx="586.6" cy="109.4" r="1.2" fill="#0000ff"/><circle cx="589.2" cy="109.4" r="1.2" fill="#0000ff"/><circle cx="591.8" cy="109.5" r="1.2" fill="#0000ff"/><circle cx="594.4" cy="109.5" r="1.2" fill="#0000ff"/><circle cx="597.0" cy="109.6" r="1.2" fill="#0000ff"/>
<circle cx="578.0" cy="109.5" r="1.0" fill="#00e600"/><circle cx="583.5" cy="109.6" r="1.0" fill="#00e600"/><circle cx="588.5" cy="109.8" r="1.0" fill="#00e600"/><circle cx="593.0" cy="110.0" r="1.0" fill="#00e600"/><circle cx="596.0" cy="110.2" r="1.0" fill="#00e600"/><circle cx="570.0" cy="109.2" r="1.0" fill="#00e600"/>
<path d="M418,96.6 L437,96.8" stroke="#00e600" stroke-width="1.8"/>
<path d="M451,93.7 L471,93.9" stroke="#00e600" stroke-width="0.9"/>
<path d="M486,75.5 L493,75.8" stroke="#00e600" stroke-width="1.2"/>
<path d="M535.6,36 L535.6,40" stroke="#00e600" stroke-width="1"/>
<path d="M479.2,92.8 Q481,94.2 482.2,89.6" fill="none" stroke="#ff0000" stroke-width="1.5"/>
<path d="M461,100.3 L475,101.3" stroke="#ff0000" stroke-width="1.3" stroke-dasharray="2 1"/>
<path d="M508,102.3 L508,108" stroke="#ff0000" stroke-width="1.4"/>
<path d="M422.5,99.8 L430.8,100" stroke="#ff0000" stroke-width="1.3" stroke-dasharray="1.5 0.8"/>
<path d="M536,79.4 L554,80.3" stroke="#ff0000" stroke-width="0.8" stroke-dasharray="1 1"/>
<path d="M416,104.5 L417,106" stroke="#ff0000" stroke-width="0.8"/>
<ellipse cx="428" cy="92.8" rx="13.2" ry="4.7" fill="none" stroke="#1a1a1a" stroke-width="1.2" stroke-dasharray="4 2.4"/>
<line x1="435.8" y1="98.9" x2="463" y2="122.6" stroke="#222" stroke-width="1.1"/>
<path d="M466.9,126.2 L458.4,123.6 L462.4,121.9 L463.6,117.8 Z" fill="#111"/>
<rect x="477.2" y="126.5" width="90.50000000000006" height="69.5" fill="#fff"/>
<line x1="489.5" y1="126.5" x2="489.5" y2="196.0" stroke="#dedede" stroke-width="0.9"/>
<line x1="535.4" y1="126.5" x2="535.4" y2="196.0" stroke="#dedede" stroke-width="0.9"/>
<line x1="477.2" y1="139.7" x2="567.7" y2="139.7" stroke="#dedede" stroke-width="0.9"/>
<line x1="477.2" y1="163.0" x2="567.7" y2="163.0" stroke="#dedede" stroke-width="0.9"/>
<line x1="477.2" y1="186.2" x2="567.7" y2="186.2" stroke="#dedede" stroke-width="0.9"/>
<circle cx="485.0" cy="189.5" r="0.8" fill="#a0a0a0"/><circle cx="487.0" cy="189.0" r="0.8" fill="#a0a0a0"/><circle cx="489.0" cy="190.0" r="0.8" fill="#a0a0a0"/><circle cx="491.0" cy="191.5" r="0.8" fill="#a0a0a0"/><circle cx="483.9" cy="170.1" r="0.8" fill="#a0a0a0"/><circle cx="487.4" cy="166.6" r="0.8" fill="#a0a0a0"/><circle cx="492.7" cy="163.9" r="0.8" fill="#a0a0a0"/><circle cx="499.3" cy="162.5" r="0.8" fill="#a0a0a0"/><circle cx="505.8" cy="161.7" r="0.8" fill="#a0a0a0"/><circle cx="512.6" cy="161.9" r="0.8" fill="#a0a0a0"/><circle cx="518.7" cy="162.5" r="0.8" fill="#a0a0a0"/><circle cx="525.8" cy="163.5" r="0.8" fill="#a0a0a0"/><circle cx="531.6" cy="164.6" r="0.8" fill="#a0a0a0"/><circle cx="537.1" cy="165.6" r="0.8" fill="#a0a0a0"/><circle cx="542.2" cy="166.6" r="0.8" fill="#a0a0a0"/><circle cx="548.3" cy="167.6" r="0.8" fill="#a0a0a0"/><circle cx="553.4" cy="168.6" r="0.8" fill="#a0a0a0"/><circle cx="558.5" cy="170.7" r="0.8" fill="#a0a0a0"/><circle cx="562.6" cy="172.7" r="0.8" fill="#a0a0a0"/><circle cx="484.0" cy="192.0" r="0.8" fill="#a0a0a0"/><circle cx="486.0" cy="190.8" r="0.8" fill="#a0a0a0"/><circle cx="488.0" cy="191.5" r="0.8" fill="#a0a0a0"/><circle cx="490.0" cy="192.5" r="0.8" fill="#a0a0a0"/><circle cx="492.0" cy="193.5" r="0.8" fill="#a0a0a0"/><circle cx="496.0" cy="194.5" r="0.8" fill="#a0a0a0"/><circle cx="500.0" cy="194.8" r="0.8" fill="#a0a0a0"/><circle cx="504.0" cy="195.0" r="0.8" fill="#a0a0a0"/>
<polyline points="481.3,196.0 481.3,174.2 483.9,172.2 502.3,173.3 536.0,175.0 567.7,177.4" fill="none" stroke="#444" stroke-width="1"/>
<circle cx="481.7" cy="178.7" r="1.1" fill="#ff0000"/><circle cx="484.8" cy="179.8" r="1.1" fill="#ff0000"/><circle cx="489.0" cy="181.6" r="1.1" fill="#ff0000"/><circle cx="493.1" cy="179.4" r="1.1" fill="#ff0000"/><circle cx="498.9" cy="183.6" r="1.1" fill="#ff0000"/><circle cx="503.9" cy="185.3" r="1.1" fill="#ff0000"/><circle cx="508.6" cy="186.0" r="1.1" fill="#ff0000"/><circle cx="513.2" cy="186.0" r="1.1" fill="#ff0000"/><circle cx="517.3" cy="186.2" r="1.1" fill="#ff0000"/><circle cx="522.0" cy="186.1" r="1.1" fill="#ff0000"/><circle cx="526.4" cy="186.6" r="1.1" fill="#ff0000"/><circle cx="530.8" cy="186.6" r="1.1" fill="#ff0000"/><circle cx="535.2" cy="186.8" r="1.1" fill="#ff0000"/><circle cx="539.6" cy="187.0" r="1.1" fill="#ff0000"/><circle cx="544.7" cy="187.1" r="1.1" fill="#ff0000"/><circle cx="549.2" cy="187.1" r="1.1" fill="#ff0000"/><circle cx="554.9" cy="185.2" r="1.1" fill="#ff0000"/><circle cx="560.0" cy="183.7" r="1.1" fill="#ff0000"/><circle cx="565.3" cy="182.2" r="1.1" fill="#ff0000"/><circle cx="511.5" cy="194.7" r="1.1" fill="#ff0000"/><circle cx="522.8" cy="195.4" r="1.1" fill="#ff0000"/><circle cx="534.4" cy="195.6" r="1.1" fill="#ff0000"/><circle cx="477.2" cy="194.8" r="1.1" fill="#ff0000"/>
<circle cx="481.7" cy="176.1" r="1.1" fill="#00e600"/><circle cx="484.8" cy="177.0" r="1.1" fill="#00e600"/><circle cx="489.0" cy="178.7" r="1.1" fill="#00e600"/><circle cx="493.5" cy="177.0" r="1.1" fill="#00e600"/><circle cx="499.2" cy="180.7" r="1.1" fill="#00e600"/><circle cx="504.2" cy="182.5" r="1.1" fill="#00e600"/><circle cx="509.1" cy="183.6" r="1.1" fill="#00e600"/><circle cx="513.7" cy="183.6" r="1.1" fill="#00e600"/><circle cx="517.9" cy="183.9" r="1.1" fill="#00e600"/><circle cx="522.0" cy="184.1" r="1.1" fill="#00e600"/><circle cx="526.4" cy="184.6" r="1.1" fill="#00e600"/><circle cx="530.8" cy="184.6" r="1.1" fill="#00e600"/><circle cx="535.2" cy="184.9" r="1.1" fill="#00e600"/><circle cx="539.6" cy="185.2" r="1.1" fill="#00e600"/><circle cx="544.7" cy="185.4" r="1.1" fill="#00e600"/><circle cx="549.2" cy="185.5" r="1.1" fill="#00e600"/><circle cx="554.9" cy="183.5" r="1.1" fill="#00e600"/><circle cx="560.0" cy="182.2" r="1.1" fill="#00e600"/><circle cx="565.3" cy="181.1" r="1.1" fill="#00e600"/><circle cx="478.8" cy="185.5" r="1.1" fill="#00e600"/><circle cx="478.2" cy="187.5" r="1.1" fill="#00e600"/><circle cx="477.6" cy="189.5" r="1.1" fill="#00e600"/><circle cx="477.0" cy="191.5" r="1.1" fill="#00e600"/><circle cx="476.6" cy="193.3" r="1.1" fill="#00e600"/>
<circle cx="484.8" cy="174.8" r="1.15" fill="#0000ff"/><circle cx="489.0" cy="175.0" r="1.15" fill="#0000ff"/><circle cx="493.5" cy="174.8" r="1.15" fill="#0000ff"/><circle cx="499.2" cy="174.8" r="1.15" fill="#0000ff"/><circle cx="504.2" cy="175.2" r="1.15" fill="#0000ff"/><circle cx="509.1" cy="175.9" r="1.15" fill="#0000ff"/><circle cx="513.7" cy="176.1" r="1.15" fill="#0000ff"/><circle cx="517.9" cy="176.3" r="1.15" fill="#0000ff"/><circle cx="522.0" cy="176.6" r="1.15" fill="#0000ff"/><circle cx="526.4" cy="176.9" r="1.15" fill="#0000ff"/><circle cx="530.8" cy="177.1" r="1.15" fill="#0000ff"/><circle cx="535.2" cy="177.1" r="1.15" fill="#0000ff"/><circle cx="539.6" cy="177.5" r="1.15" fill="#0000ff"/><circle cx="544.7" cy="177.3" r="1.15" fill="#0000ff"/><circle cx="549.2" cy="177.9" r="1.15" fill="#0000ff"/><circle cx="554.9" cy="177.6" r="1.15" fill="#0000ff"/><circle cx="560.0" cy="177.9" r="1.15" fill="#0000ff"/><circle cx="565.3" cy="178.8" r="1.15" fill="#0000ff"/>
<path d="M482.5,173.2 L480,174.5 L478.3,177 L477.3,180 L478.2,183.5" fill="none" stroke="#0000ff" stroke-width="2.3" stroke-linejoin="round"/>
<path d="M476.5,179 L479,179.5" stroke="#0000ff" stroke-width="2.2"/>
<rect x="477.2" y="126.5" width="90.50000000000006" height="69.5" fill="none" stroke="#262626" stroke-width="1.1"/>
<text x="472.8" y="142.79999999999998" font-size="10.5" text-anchor="end" font-weight="bold" fill="#000">-11</text>
<text x="472.8" y="166.1" font-size="10.5" text-anchor="end" font-weight="bold" fill="#000">-12</text>
<text x="472.8" y="189.29999999999998" font-size="10.5" text-anchor="end" font-weight="bold" fill="#000">-13</text>
<text x="489.5" y="211" font-size="10.5" text-anchor="middle" font-weight="bold" fill="#000">-18</text>
<text x="535.6" y="211" font-size="10.5" text-anchor="middle" font-weight="bold" fill="#000">-16</text>
<text x="522.6" y="224.3" font-size="11.5" text-anchor="middle" font-weight="bold" fill="#000">North(m)</text>
<text x="455.5" y="161.6" font-size="11.5" text-anchor="middle" font-weight="bold" fill="#000" transform="rotate(-90 455.5 161.6)">East(m)</text>
<rect x="399.2" y="10.2" width="283.8" height="222.0" fill="none" stroke="#262626" stroke-width="1.1"/>
<line x1="408.3" y1="232.2" x2="408.3" y2="229.6" stroke="#262626" stroke-width="0.9"/>
<line x1="408.3" y1="10.2" x2="408.3" y2="12.799999999999999" stroke="#262626" stroke-width="0.9"/>
<text x="408.3" y="246.8" font-size="10.3" text-anchor="middle" font-weight="bold" fill="#000">-20</text>
<line x1="435.9" y1="232.2" x2="435.9" y2="229.6" stroke="#262626" stroke-width="0.9"/>
<line x1="435.9" y1="10.2" x2="435.9" y2="12.799999999999999" stroke="#262626" stroke-width="0.9"/>
<text x="435.9" y="246.8" font-size="10.3" text-anchor="middle" font-weight="bold" fill="#000">-15</text>
<line x1="463.4" y1="232.2" x2="463.4" y2="229.6" stroke="#262626" stroke-width="0.9"/>
<line x1="463.4" y1="10.2" x2="463.4" y2="12.799999999999999" stroke="#262626" stroke-width="0.9"/>
<text x="463.4" y="246.8" font-size="10.3" text-anchor="middle" font-weight="bold" fill="#000">-10</text>
<line x1="490.9" y1="232.2" x2="490.9" y2="229.6" stroke="#262626" stroke-width="0.9"/>
<line x1="490.9" y1="10.2" x2="490.9" y2="12.799999999999999" stroke="#262626" stroke-width="0.9"/>
<text x="490.9" y="246.8" font-size="10.3" text-anchor="middle" font-weight="bold" fill="#000">-5</text>
<line x1="518.5" y1="232.2" x2="518.5" y2="229.6" stroke="#262626" stroke-width="0.9"/>
<line x1="518.5" y1="10.2" x2="518.5" y2="12.799999999999999" stroke="#262626" stroke-width="0.9"/>
<text x="518.5" y="246.8" font-size="10.3" text-anchor="middle" font-weight="bold" fill="#000">0</text>
<line x1="546.0" y1="232.2" x2="546.0" y2="229.6" stroke="#262626" stroke-width="0.9"/>
<line x1="546.0" y1="10.2" x2="546.0" y2="12.799999999999999" stroke="#262626" stroke-width="0.9"/>
<text x="546.0" y="246.8" font-size="10.3" text-anchor="middle" font-weight="bold" fill="#000">5</text>
<line x1="573.6" y1="232.2" x2="573.6" y2="229.6" stroke="#262626" stroke-width="0.9"/>
<line x1="573.6" y1="10.2" x2="573.6" y2="12.799999999999999" stroke="#262626" stroke-width="0.9"/>
<text x="573.6" y="246.8" font-size="10.3" text-anchor="middle" font-weight="bold" fill="#000">10</text>
<line x1="601.1" y1="232.2" x2="601.1" y2="229.6" stroke="#262626" stroke-width="0.9"/>
<line x1="601.1" y1="10.2" x2="601.1" y2="12.799999999999999" stroke="#262626" stroke-width="0.9"/>
<text x="601.1" y="246.8" font-size="10.3" text-anchor="middle" font-weight="bold" fill="#000">15</text>
<line x1="628.7" y1="232.2" x2="628.7" y2="229.6" stroke="#262626" stroke-width="0.9"/>
<line x1="628.7" y1="10.2" x2="628.7" y2="12.799999999999999" stroke="#262626" stroke-width="0.9"/>
<text x="628.7" y="246.8" font-size="10.3" text-anchor="middle" font-weight="bold" fill="#000">20</text>
<line x1="656.2" y1="232.2" x2="656.2" y2="229.6" stroke="#262626" stroke-width="0.9"/>
<line x1="656.2" y1="10.2" x2="656.2" y2="12.799999999999999" stroke="#262626" stroke-width="0.9"/>
<text x="656.2" y="246.8" font-size="10.3" text-anchor="middle" font-weight="bold" fill="#000">25</text>
<line x1="399.2" y1="25.6" x2="401.8" y2="25.6" stroke="#262626" stroke-width="0.9"/>
<line x1="683.0" y1="25.6" x2="680.4" y2="25.6" stroke="#262626" stroke-width="0.9"/>
<text x="395.2" y="29.2" font-size="10.3" text-anchor="end" font-weight="bold" fill="#000">0</text>
<line x1="399.2" y1="53.1" x2="401.8" y2="53.1" stroke="#262626" stroke-width="0.9"/>
<line x1="683.0" y1="53.1" x2="680.4" y2="53.1" stroke="#262626" stroke-width="0.9"/>
<text x="395.2" y="56.7" font-size="10.3" text-anchor="end" font-weight="bold" fill="#000">-5</text>
<line x1="399.2" y1="80.5" x2="401.8" y2="80.5" stroke="#262626" stroke-width="0.9"/>
<line x1="683.0" y1="80.5" x2="680.4" y2="80.5" stroke="#262626" stroke-width="0.9"/>
<text x="395.2" y="84.1" font-size="10.3" text-anchor="end" font-weight="bold" fill="#000">-10</text>
<line x1="399.2" y1="108.0" x2="401.8" y2="108.0" stroke="#262626" stroke-width="0.9"/>
<line x1="683.0" y1="108.0" x2="680.4" y2="108.0" stroke="#262626" stroke-width="0.9"/>
<text x="395.2" y="111.6" font-size="10.3" text-anchor="end" font-weight="bold" fill="#000">-15</text>
<line x1="399.2" y1="135.4" x2="401.8" y2="135.4" stroke="#262626" stroke-width="0.9"/>
<line x1="683.0" y1="135.4" x2="680.4" y2="135.4" stroke="#262626" stroke-width="0.9"/>
<text x="395.2" y="139.0" font-size="10.3" text-anchor="end" font-weight="bold" fill="#000">-20</text>
<line x1="399.2" y1="162.8" x2="401.8" y2="162.8" stroke="#262626" stroke-width="0.9"/>
<line x1="683.0" y1="162.8" x2="680.4" y2="162.8" stroke="#262626" stroke-width="0.9"/>
<text x="395.2" y="166.4" font-size="10.3" text-anchor="end" font-weight="bold" fill="#000">-25</text>
<line x1="399.2" y1="190.3" x2="401.8" y2="190.3" stroke="#262626" stroke-width="0.9"/>
<line x1="683.0" y1="190.3" x2="680.4" y2="190.3" stroke="#262626" stroke-width="0.9"/>
<text x="395.2" y="193.9" font-size="10.3" text-anchor="end" font-weight="bold" fill="#000">-30</text>
<line x1="399.2" y1="217.8" x2="401.8" y2="217.8" stroke="#262626" stroke-width="0.9"/>
<line x1="683.0" y1="217.8" x2="680.4" y2="217.8" stroke="#262626" stroke-width="0.9"/>
<text x="395.2" y="221.3" font-size="10.3" text-anchor="end" font-weight="bold" fill="#000">-35</text>
<text x="541.5" y="261.2" font-size="11.7" text-anchor="middle" font-weight="bold" fill="#000">North(m)</text>
<text x="376.4" y="121" font-size="11.7" text-anchor="middle" font-weight="bold" fill="#000" transform="rotate(-90 376.4 121)">East(m)</text>
<text x="535.9" y="276.1" font-size="13.2" text-anchor="middle" font-weight="normal" fill="#000" stroke="#000" stroke-width="0.3">(b)</text>
<rect x="554.5" y="16.5" width="121" height="62.5" fill="#fff" stroke="#262626" stroke-width="1.1"/>
<line x1="557" y1="24" x2="582.8" y2="24" stroke="#9a9a9a" stroke-width="1.5"/>
<text x="585.6" y="27.6" font-size="10.4" text-anchor="start" font-weight="bold" fill="#000">Reference</text>
<circle cx="570" cy="36.2" r="0.9" fill="#7a7a7a"/>
<text x="585.6" y="39.800000000000004" font-size="10.4" text-anchor="start" font-weight="bold" fill="#000">EKF</text>
<circle cx="570" cy="48.4" r="0.9" fill="#ff0000"/>
<text x="585.6" y="52.0" font-size="10.4" text-anchor="start" font-weight="bold" fill="#000">ARKF</text>
<circle cx="570" cy="60.6" r="0.9" fill="#00e600"/>
<text x="585.6" y="64.2" font-size="10.4" text-anchor="start" font-weight="bold" fill="#000">ARKF+MAP</text>
<circle cx="570" cy="72.8" r="0.9" fill="#0000ff"/>
<text x="585.6" y="76.39999999999999" font-size="10.4" text-anchor="start" font-weight="bold" fill="#000">ARKF+MAP+RAD</text>
</svg>
</body></html>
